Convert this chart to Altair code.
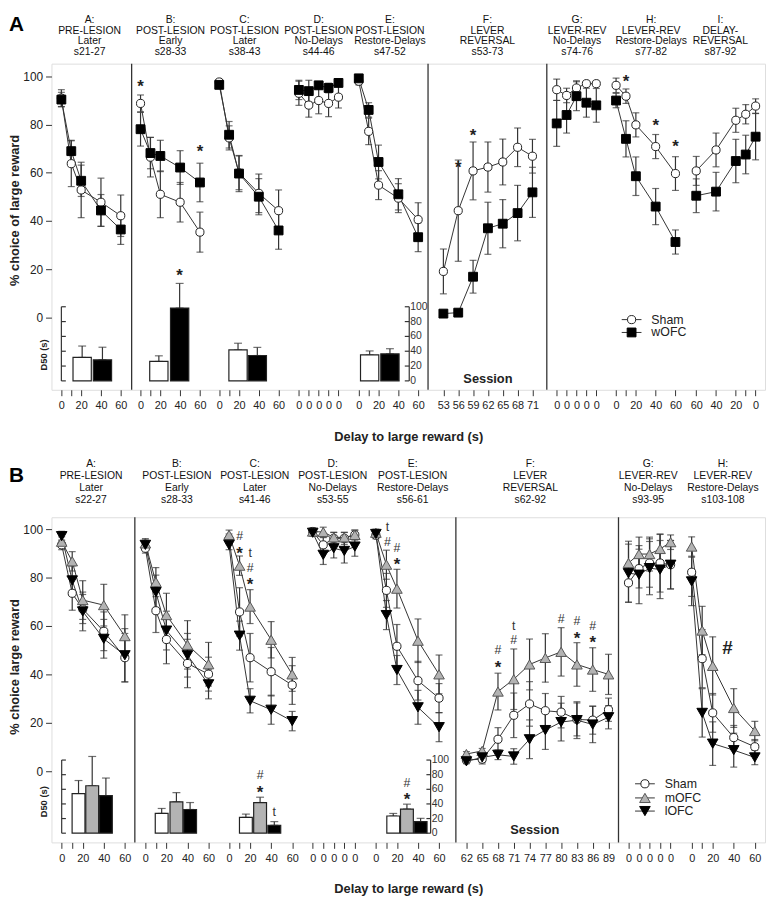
import altair as alt
import pandas as pd

FONT = "Liberation Sans, Arial, sans-serif"
INK = "#222222"

# ---------------- x categories / tick labels ----------------
DELAYS = [0, 10, 20, 40, 60]
DELAY_LABELS = ["0", "", "20", "40", "60"]
SLOTS = [0, 10, 20, 30, 40]
SLOT_LABELS = ["0", "0", "0", "0", "0"]
REV_DELAYS = [60, 40, 20, 10, 0]
REV_LABELS = ["60", "40", "20", "", "0"]
SESSIONS_1 = [53, 56, 59, 62, 65, 68, 71]
SESSIONS_2 = [62, 65, 68, 71, 74, 77, 80, 83, 86, 89]
D50_TICKS = [0, 20, 40, 60, 80, 100]

# ---------------- Experiment A : Sham vs wOFC ----------------
HEADERS_1 = ["A:\nPRE-LESION\nLater\ns21-27", "B:\nPOST-LESION\nEarly\ns28-33",
             "C:\nPOST-LESION\nLater\ns38-43", "D:\nPOST-LESION\nNo-Delays\ns44-46",
             "E:\nPOST-LESION\nRestore-Delays\ns47-52", "F:\nLEVER\nREVERSAL\ns53-73",
             "G:\nLEVER-REV\nNo-Delays\ns74-76", "H:\nLEVER-REV\nRestore-Delays\ns77-82",
             "I:\nDELAY-\nREVERSAL\ns87-92"]
SHAM_1 = {
    "A": [91.0, 63.8, 52.9, 47.8, 42.2],
    "B": [88.8, 66.5, 51.1, 47.8, 35.4],
    "C": [97.7, 74.5, 60.0, 51.5, 44.3],
    "D": [93.0, 88.1, 90.0, 88.8, 91.4],
    "E": [98.0, 77.2, 54.9, 49.5, 40.6],
    "F": [19.1, 44.3, 60.8, 62.4, 64.5, 70.6, 66.9],
    "G": [94.5, 92.1, 95.2, 97.0, 97.0],
    "H": [96.3, 91.8, 79.9, 70.9, 59.7],
    "I": [60.8, 69.5, 81.8, 84.3, 87.7],
}
SHAM_1_SEM = {
    "A": [3.5, 9.5, 11.5, 10.0, 8.6],
    "B": [3.5, 8.2, 9.7, 8.2, 8.3],
    "C": [1.0, 5.0, 7.0, 8.0, 8.6],
    "D": [5.0, 5.0, 5.5, 5.5, 4.5],
    "E": [1.5, 5.5, 6.0, 6.0, 7.0],
    "F": [9.3, 21.0, 12.0, 10.4, 9.5, 8.0, 7.0],
    "G": [4.4, 3.0, 3.0, 1.0, 1.0],
    "H": [3.0, 3.0, 5.0, 5.0, 7.0],
    "I": [6.0, 7.0, 5.0, 4.0, 3.0],
}
WOFC_1 = {
    "A": [90.4, 69.0, 56.7, 44.4, 36.5],
    "B": [78.1, 68.2, 67.0, 62.2, 56.0],
    "C": [96.5, 75.8, 59.7, 50.1, 36.1],
    "D": [94.4, 93.9, 96.3, 95.2, 97.3],
    "E": [99.2, 86.1, 64.5, 51.1, 33.3],
    "F": [1.6, 2.0, 16.9, 37.0, 38.9, 43.3, 51.9],
    "G": [80.5, 84.0, 91.8, 89.1, 88.0],
    "H": [90.0, 74.1, 58.6, 46.0, 31.3],
    "I": [50.5, 52.2, 64.9, 67.6, 75.0],
}
WOFC_1_SEM = {
    "A": [3.0, 4.5, 6.5, 6.6, 6.2],
    "B": [7.0, 6.5, 6.5, 7.0, 8.0],
    "C": [1.5, 5.5, 7.5, 7.5, 7.8],
    "D": [4.0, 4.5, 1.5, 2.0, 1.5],
    "E": [1.0, 3.0, 7.0, 6.5, 6.0],
    "F": [1.2, 1.2, 6.8, 10.8, 10.0, 11.5, 10.4],
    "G": [9.5, 7.5, 6.0, 6.0, 7.0],
    "H": [3.0, 7.5, 8.0, 7.5, 5.0],
    "I": [7.0, 8.0, 9.0, 8.0, 9.6],
}
D50_PANELS_1 = ["A", "B", "C", "E"]
D50_SHAM_1 = [31.6, 26.2, 41.8, 35.1]
D50_SHAM_1_SEM = [15.4, 7.6, 9.0, 5.3]
D50_WOFC_1 = [28.4, 98.2, 34.2, 36.4]
D50_WOFC_1_SEM = [17.0, 33.3, 11.0, 7.0]
STARS_1 = [("B", 0, 97.5), ("B", 60, 70.6), ("F", 56, 64.0), ("F", 59, 77.5),
           ("H", 10, 99.6), ("H", 40, 81.6), ("H", 60, 72.7)]
D50_STARS_1 = [("B", 39.5, 148.0, "*")]

# ---------------- Experiment B : Sham vs mOFC vs lOFC ----------------
HEADERS_2 = ["A:\nPRE-LESION\nLater\ns22-27", "B:\nPOST-LESION\nEarly\ns28-33",
             "C:\nPOST-LESION\nLater\ns41-46", "D:\nPOST-LESION\nNo-Delays\ns53-55",
             "E:\nPOST-LESION\nRestore-Delays\ns56-61", "F:\nLEVER\nREVERSAL\ns62-92",
             "G:\nLEVER-REV\nNo-Delays\ns93-95", "H:\nLEVER-REV\nRestore-Delays\ns103-108"]
SHAM_2 = {
    "A": [93.5, 73.5, 67.0, 57.8, 46.9],
    "B": [92.1, 66.3, 54.4, 44.5, 40.1],
    "C": [96.0, 65.8, 46.9, 41.1, 35.6],
    "D": [99.0, 93.5, 96.2, 96.2, 97.6],
    "E": [97.5, 74.7, 51.6, 37.4, 30.2],
    "F": [4.6, 5.0, 13.2, 23.1, 27.8, 25.0, 24.4, 21.4, 21.1, 25.4],
    "G": [77.8, 83.7, 86.0, 86.0, 85.3],
    "H": [82.2, 46.5, 24.1, 13.9, 10.1],
}
SHAM_2_SEM = {
    "A": [2.0, 7.0, 6.0, 8.0, 10.0],
    "B": [2.0, 9.0, 10.0, 10.0, 7.0],
    "C": [2.0, 10.0, 10.0, 10.0, 8.0],
    "D": [1.5, 3.0, 2.5, 2.5, 2.0],
    "E": [1.5, 7.0, 9.0, 8.0, 6.0],
    "F": [1.0, 2.0, 4.8, 9.2, 9.2, 7.1, 6.5, 6.8, 5.8, 4.8],
    "G": [8.0, 8.0, 10.0, 12.0, 10.0],
    "H": [10.0, 12.0, 8.0, 5.0, 3.0],
}
MOFC_2 = {
    "A": [94.8, 86.7, 70.7, 68.6, 55.8],
    "B": [94.1, 78.1, 64.5, 52.2, 44.2],
    "C": [97.6, 84.9, 68.0, 54.3, 40.0],
    "D": [99.0, 98.8, 96.6, 96.6, 97.6],
    "E": [98.5, 85.3, 75.4, 53.9, 40.0],
    "F": [7.1, 8.4, 32.9, 38.0, 44.1, 46.8, 49.3, 44.1, 42.0, 40.0],
    "G": [86.0, 89.7, 89.7, 91.8, 94.6],
    "H": [92.8, 58.1, 43.5, 26.1, 16.6],
}
MOFC_2_SEM = {
    "A": [2.0, 4.0, 8.0, 8.6, 8.8],
    "B": [2.0, 6.0, 9.0, 10.0, 9.0],
    "C": [2.0, 4.0, 7.0, 7.5, 7.0],
    "D": [1.0, 2.0, 2.0, 2.0, 2.0],
    "E": [1.5, 6.0, 8.0, 9.0, 8.0],
    "F": [1.0, 1.0, 7.6, 12.5, 10.5, 10.0, 10.0, 9.0, 9.0, 8.3],
    "G": [9.0, 7.0, 7.0, 6.0, 3.0],
    "H": [4.0, 10.0, 12.0, 8.0, 4.0],
}
LOFC_2 = {
    "A": [97.1, 78.8, 66.0, 54.7, 47.9],
    "B": [93.5, 74.0, 58.1, 47.9, 35.9],
    "C": [93.5, 56.0, 29.1, 25.4, 20.7],
    "D": [98.5, 89.4, 92.1, 91.0, 92.8],
    "E": [98.0, 64.5, 41.8, 26.4, 18.2],
    "F": [4.1, 5.7, 6.8, 6.1, 13.2, 17.0, 20.3, 21.1, 19.3, 22.3],
    "G": [81.8, 81.2, 83.9, 83.3, 85.3],
    "H": [78.4, 24.1, 11.4, 8.7, 5.7],
}
LOFC_2_SEM = {
    "A": [2.0, 6.0, 8.0, 8.0, 11.0],
    "B": [2.0, 7.0, 8.0, 9.0, 6.0],
    "C": [2.0, 6.0, 5.0, 6.0, 4.0],
    "D": [1.5, 4.0, 4.0, 5.0, 4.0],
    "E": [1.5, 6.0, 6.0, 7.0, 6.0],
    "F": [1.0, 2.0, 2.0, 3.2, 8.0, 8.0, 7.8, 7.6, 7.5, 4.8],
    "G": [12.0, 12.0, 11.0, 12.0, 10.0],
    "H": [10.0, 10.0, 9.0, 7.0, 3.0],
}
D50_PANELS_2 = ["A", "B", "C", "E"]
D50_SHAM_2 = [54.0, 27.0, 21.6, 23.5]
D50_SHAM_2_SEM = [18.0, 6.8, 4.5, 3.5]
D50_MOFC_2 = [64.9, 42.8, 41.9, 33.0]
D50_MOFC_2_SEM = [40.0, 12.6, 7.3, 6.7]
D50_LOFC_2 = [51.4, 32.4, 10.8, 15.8]
D50_LOFC_2_SEM = [24.0, 9.5, 5.0, 4.5]
STARS_2 = [("C", 10, 91.7), ("C", 20, 78.8), ("E", 20, 87.1), ("F", 68, 44.8),
           ("F", 83, 56.7), ("F", 86, 55.0)]
MARKS_2 = [("C", 10, 97.1, "#"), ("C", 20, 90.0, "t"), ("C", 20, 84.0, "#"),
           ("E", 11, 100.9, "t"), ("E", 11, 94.8, "#"), ("E", 20, 92.1, "#"),
           ("F", 68, 49.9, "#"), ("F", 71, 59.9, "t"), ("F", 71, 54.0, "#"),
           ("F", 80, 62.9, "#"), ("F", 83, 62.2, "#"), ("F", 86, 60.1, "#")]
BIG_MARKS_2 = [("H", 34, 50.9, "#")]
D50_STARS_2 = [("C", 29.5, 61.8, "*"), ("E", 29.5, 51.9, "*")]
D50_MARKS_2 = [("C", 29.5, 79.0, "#"), ("C", 43.0, 28.4, "t"), ("E", 29.5, 68.5, "#")]

# ---------------- styling / layout ----------------
STYLE = {
    "Sham": dict(shape="circle", fill="white", stroke=INK, size=68),
    "wOFC": dict(shape="square", fill="black", stroke="black", size=80),
    "mOFC": dict(shape="triangle-up", fill="#b3b3b3", stroke="#555555", size=115),
    "lOFC": dict(shape="triangle-down", fill="black", stroke="black", size=115),
}
BAR_FILL = {"Sham": "white", "wOFC": "black", "mOFC": "#b3b3b3", "lOFC": "black"}


def xpos(spec, c):
    off, sign, base, step = spec
    return round(off + sign * (c - base) * step, 2)


ROW_1 = dict(
    letter="A", ytitle="% choice of large reward",
    width=722, height=330, xmax=711, ydom=[-30, 105.3], idom=[-12, 428],
    layout={"A": (5, 1, 0, 1), "B": (85, 1, 0, 1), "C": (164.5, 1, 0, 1), "D": (245, 1, 0, 1),
            "E": (305.5, 1, 0, 1), "F": (391, 1, 53, 5), "G": (505.5, 1, 0, 1),
            "H": (565.5, 1, 0, 1), "I": (706.5, -1, 0, 1)},
    xcats={"A": DELAYS, "B": DELAYS, "C": DELAYS, "D": SLOTS, "E": DELAYS, "F": SESSIONS_1,
           "G": SLOTS, "H": DELAYS, "I": REV_DELAYS},
    xlabels={"A": DELAY_LABELS, "B": DELAY_LABELS, "C": DELAY_LABELS, "D": SLOT_LABELS,
             "E": DELAY_LABELS, "F": [str(s) for s in SESSIONS_1], "G": SLOT_LABELS,
             "H": DELAY_LABELS, "I": REV_LABELS},
    groups=[("Sham", SHAM_1, SHAM_1_SEM), ("wOFC", WOFC_1, WOFC_1_SEM)],
    d50_panels=D50_PANELS_1,
    d50=[("Sham", D50_SHAM_1, D50_SHAM_1_SEM), ("wOFC", D50_WOFC_1, D50_WOFC_1_SEM)],
    bar_centers={"A": [21, 41.5], "B": [18.5, 39.5], "C": [19, 38.5], "E": [11, 31.5]},
    bar_w=18.5,
    headers=HEADERS_1,
    header_x=[33.5, 115.3, 190.1, 265, 337, 435.5, 526.1, 600.9, 670.9],
    header_y=-44, header_lh=10.7,
    dividers=[76, 375.5, 495.5],
    stars=STARS_1, marks=[], big_marks=[], d50_stars=D50_STARS_1, d50_marks=[],
    inset_left=5, inset_right=356.5, inset_tick=4.5, d50_label_d=35,
    legend_x=587, legend_text_x=607, legend_y=[259, 272],
    session_x=436, session_y=319, ytitle_y=148, letter_y=-39,
    cap=7,
)

ROW_2 = dict(
    letter="B", ytitle="% choice large reward",
    width=722, height=329, xmax=668.5, ydom=[-29.4, 104.9], idom=[-12.6, 432],
    layout={"A": (5, 1, 0, 1), "B": (84.5, 1, 0, 1), "C": (164, 1, 0, 1), "D": (243.5, 1, 0, 1),
            "E": (303.5, 1, 0, 1), "F": (389.5, 1, 62, 5), "G": (543.5, 1, 0, 1),
            "H": (603.5, 1, 0, 1)},
    xcats={"A": DELAYS, "B": DELAYS, "C": DELAYS, "D": SLOTS, "E": DELAYS, "F": SESSIONS_2,
           "G": SLOTS, "H": DELAYS},
    xlabels={"A": DELAY_LABELS, "B": DELAY_LABELS, "C": DELAY_LABELS, "D": SLOT_LABELS,
             "E": DELAY_LABELS, "F": [str(s) for s in SESSIONS_2], "G": SLOT_LABELS,
             "H": DELAY_LABELS},
    groups=[("Sham", SHAM_2, SHAM_2_SEM), ("mOFC", MOFC_2, MOFC_2_SEM), ("lOFC", LOFC_2, LOFC_2_SEM)],
    d50_panels=D50_PANELS_2,
    d50=[("Sham", D50_SHAM_2, D50_SHAM_2_SEM), ("mOFC", D50_MOFC_2, D50_MOFC_2_SEM),
         ("lOFC", D50_LOFC_2, D50_LOFC_2_SEM)],
    bar_centers={"A": [16, 29, 42], "B": [15.5, 29.5, 42.5], "C": [16, 29.5, 43], "E": [16.5, 29.5, 42.5]},
    bar_w=13,
    headers=HEADERS_2,
    header_x=[32.9, 114.4, 188.4, 262.5, 338.4, 450.2, 562.2, 633.2],
    header_y=-54, header_lh=12.3,
    dividers=[74.5, 379.5, 534],
    stars=STARS_2, marks=MARKS_2, big_marks=BIG_MARKS_2, d50_stars=D50_STARS_2, d50_marks=D50_MARKS_2,
    inset_left=5, inset_right=355.5, inset_tick=4, d50_label_d=43,
    legend_x=600.5, legend_text_x=620.5, legend_y=[269.7, 284, 297.3],
    session_x=454.5, session_y=317, ytitle_y=151, letter_y=-42,
    cap=7,
)


def build_row(R):
    lay = R["layout"]
    xscale = alt.Scale(domain=[0, R["xmax"]], nice=False, zero=False)
    tick_vals, tick_labs = [], []
    for p, spec in lay.items():
        for c, lab in zip(R["xcats"][p], R["xlabels"][p]):
            tick_vals.append(xpos(spec, c))
            tick_labs.append(lab)
    expr = ("[" + ",".join("'%s'" % l for l in tick_labs) + "][indexof(["
            + ",".join(repr(float(v)) for v in tick_vals) + "], datum.value)]")
    xaxis = alt.Axis(values=[float(v) for v in tick_vals], labelExpr=expr, domain=False, grid=False,
                     tickSize=6, tickColor="#333333", tickWidth=1, labelColor=INK, labelFont=FONT,
                     labelFontSize=11, labelPadding=4, labelOverlap=False, labelFlush=False,
                     titleFont=FONT, titleFontSize=13, titleFontWeight="bold", titleColor=INK,
                     titleY=47, titleBaseline="middle")
    xtitle = "Delay to large reward (s)"
    yscale = alt.Scale(domain=R["ydom"], nice=False, zero=False)
    yaxis = alt.Axis(values=[0, 20, 40, 60, 80, 100], domain=False, grid=False, tickSize=6,
                     tickColor="#333333", labelColor=INK, labelFont=FONT, labelFontSize=12,
                     labelPadding=3, titleFont=FONT, titleFontSize=13, titleFontWeight="bold",
                     titleColor=INK, titleX=-37, titleY=R["ytitle_y"], titleAngle=270,
                     titleAlign="center", titleBaseline="middle")
    iscale = alt.Scale(domain=R["idom"], nice=False, zero=False)

    def X(f="x"):
        return alt.X(f"{f}:Q", scale=xscale, axis=xaxis, title=xtitle)

    def Ym(f):
        return alt.Y(f"{f}:Q", scale=yscale, axis=yaxis, title=R["ytitle"])

    def Yi(f):
        return alt.Y(f"{f}:Q", scale=iscale, axis=None)

    # ---- series table ----
    recs = []
    for g, vals, sems in R["groups"]:
        for p, vs in vals.items():
            for c, v, e in zip(R["xcats"][p], vs, sems[p]):
                recs.append(dict(x=xpos(lay[p], c), y=v, lo=v - e, hi=v + e, group=g, series=f"{g}-{p}"))
    df = pd.DataFrame(recs)

    main = []
    main.append(alt.Chart(pd.DataFrame({"x": R["dividers"]})).mark_rule(
        color="#333333", strokeWidth=1.3).encode(x=X()))
    main.append(alt.Chart(df).mark_line(color="#333333", strokeWidth=1).encode(
        x=X(), y=Ym("y"), detail="series:N"))
    main.append(alt.Chart(df).mark_errorbar(
        color="#333333", ticks={"size": R["cap"], "thickness": 1.2}, rule={"strokeWidth": 1.2}
    ).encode(x=X(), y=Ym("lo"), y2=alt.Y2("hi:Q")))
    for g, _, _ in R["groups"]:
        st = STYLE[g]
        main.append(alt.Chart(df[df.group == g]).mark_point(
            shape=st["shape"], fill=st["fill"], stroke=st["stroke"], size=st["size"],
            strokeWidth=1, opacity=1, filled=False, fillOpacity=1).encode(x=X(), y=Ym("y")))

    # annotations
    if R["stars"]:
        sdf = pd.DataFrame([dict(x=xpos(lay[p], c), y=v, t="*") for p, c, v in R["stars"]])
        main.append(alt.Chart(sdf).mark_text(font=FONT, fontSize=17, fontWeight="bold", color=INK,
                                             baseline="alphabetic", dy=10).encode(x=X(), y=Ym("y"), text="t:N"))
    if R["marks"]:
        mdf = pd.DataFrame([dict(x=xpos(lay[p], c), y=v, t=t) for p, c, v, t in R["marks"]])
        main.append(alt.Chart(mdf).mark_text(font=FONT, fontSize=12.5, color="#333333",
                                             baseline="middle").encode(x=X(), y=Ym("y"), text="t:N"))
    if R["big_marks"]:
        bdf = pd.DataFrame([dict(x=xpos(lay[p], c), y=v, t=t) for p, c, v, t in R["big_marks"]])
        main.append(alt.Chart(bdf).mark_text(font=FONT, fontSize=19, fontWeight="bold", color=INK,
                                             baseline="middle").encode(x=X(), y=Ym("y"), text="t:N"))

    # headers: one single-line text layer per header line
    split = [h.split("\n") for h in R["headers"]]
    for i in range(4):
        hdf = pd.DataFrame({"x": R["header_x"], "h": [s[i] for s in split]})
        main.append(alt.Chart(hdf).mark_text(font=FONT, fontSize=10.5, color="#111111",
                                             baseline="middle", align="center").encode(
            x=X(), y=alt.value(R["header_y"] + i * R["header_lh"]), text="h:N"))
    # panel letter
    main.append(alt.Chart(pd.DataFrame({"t": [R["letter"]]})).mark_text(
        font=FONT, fontSize=21, fontWeight="bold", color="black", align="left", baseline="middle").encode(
        x=alt.value(-43), y=alt.value(R["letter_y"]), text="t:N"))
    # Session label
    main.append(alt.Chart(pd.DataFrame({"x": [R["session_x"]], "t": ["Session"]})).mark_text(
        font=FONT, fontSize=13, fontWeight="bold", color=INK, baseline="middle").encode(
        x=X(), y=alt.value(R["session_y"]), text="t:N"))
    # legend
    for (g, _, _), ly in zip(R["groups"], R["legend_y"]):
        st = STYLE[g]
        ld = pd.DataFrame({"t": [g]})
        main.append(alt.Chart(ld).mark_rule(color="#333333", strokeWidth=1).encode(
            x=alt.value(R["legend_x"] - 10), x2=alt.value(R["legend_x"] + 10), y=alt.value(ly)))
        main.append(alt.Chart(ld).mark_point(shape=st["shape"], fill=st["fill"], stroke=st["stroke"],
                                             size=st["size"], strokeWidth=1, opacity=1, filled=False,
                                             fillOpacity=1).encode(
            x=alt.value(R["legend_x"]), y=alt.value(ly)))
        main.append(alt.Chart(ld).mark_text(font=FONT, fontSize=12.5, color=INK, align="left",
                                            baseline="middle").encode(
            x=alt.value(R["legend_text_x"]), y=alt.value(ly), text="t:N"))

    # ---- D50 inset ----
    ins = []
    brecs = []
    names = [gg for gg, _, _ in R["d50"]]
    for g, vals, sems in R["d50"]:
        gi = names.index(g)
        for p, v, e in zip(R["d50_panels"], vals, sems):
            brecs.append(dict(x=round(lay[p][0] + R["bar_centers"][p][gi], 2), d=v, dhi=v + e, group=g))
    bdf_ = pd.DataFrame(brecs)
    ins.append(alt.Chart(bdf_).mark_errorbar(
        color="#333333", ticks={"size": 8, "thickness": 1.2}, rule={"strokeWidth": 1.2}
    ).encode(x=X(), y=Yi("d"), y2=alt.Y2("dhi:Q")))
    for g in names:
        ins.append(alt.Chart(bdf_[bdf_.group == g]).mark_bar(
            size=R["bar_w"], fill=BAR_FILL[g], stroke="#222222", strokeWidth=1.2).encode(
            x=X(), y=Yi("d")))
    xl, xr, tl = R["inset_left"], R["inset_right"], R["inset_tick"]
    spine = pd.DataFrame({"x": [xl, xr], "d0": [0, 0], "d1": [100, 100]})
    ins.append(alt.Chart(spine).mark_rule(color="#333333", strokeWidth=1.2).encode(
        x=X(), y=Yi("d0"), y2=alt.Y2("d1:Q")))
    tdf = pd.DataFrame({"x": [xl] * 6 + [xr] * 6, "x2": [xl + tl] * 6 + [xr - tl] * 6,
                        "d": D50_TICKS * 2})
    ins.append(alt.Chart(tdf).mark_rule(color="#333333", strokeWidth=1.2).encode(
        x=X(), x2=alt.X2("x2:Q"), y=Yi("d")))
    ldf = pd.DataFrame({"x": [xr + 1] * 6, "d": D50_TICKS, "t": [str(v) for v in D50_TICKS]})
    ins.append(alt.Chart(ldf).mark_text(font=FONT, fontSize=10.5, color="#333333", align="left",
                                        baseline="middle").encode(x=X(), y=Yi("d"), text="t:N"))
    ins.append(alt.Chart(pd.DataFrame({"d": [R["d50_label_d"]], "t": ["D50 (s)"]})).mark_text(
        font=FONT, fontSize=9.5, fontWeight="bold", color=INK, angle=270, baseline="middle").encode(
        x=alt.value(-8), y=Yi("d"), text="t:N"))
    if R["d50_stars"]:
        sdf = pd.DataFrame([dict(x=round(lay[p][0] + c, 2), d=v, t=t) for p, c, v, t in R["d50_stars"]])
        ins.append(alt.Chart(sdf).mark_text(font=FONT, fontSize=17, fontWeight="bold", color=INK,
                                            baseline="alphabetic", dy=10).encode(x=X(), y=Yi("d"), text="t:N"))
    if R["d50_marks"]:
        mdf = pd.DataFrame([dict(x=round(lay[p][0] + c, 2), d=v, t=t) for p, c, v, t in R["d50_marks"]])
        ins.append(alt.Chart(mdf).mark_text(font=FONT, fontSize=12.5, color="#333333",
                                            baseline="middle").encode(x=X(), y=Yi("d"), text="t:N"))

    return alt.layer(alt.layer(*main), alt.layer(*ins)).resolve_scale(y="independent").properties(
        width=R["width"], height=R["height"])


chart = alt.vconcat(build_row(ROW_1), build_row(ROW_2), spacing=129, bounds="flush").properties(
    padding={"left": 0, "top": 0, "right": 0, "bottom": 0}
).configure_view(stroke="#333333", strokeWidth=1.3).configure(font=FONT)

chart.save("out.html", embed_options={"renderer": "svg", "actions": False})
